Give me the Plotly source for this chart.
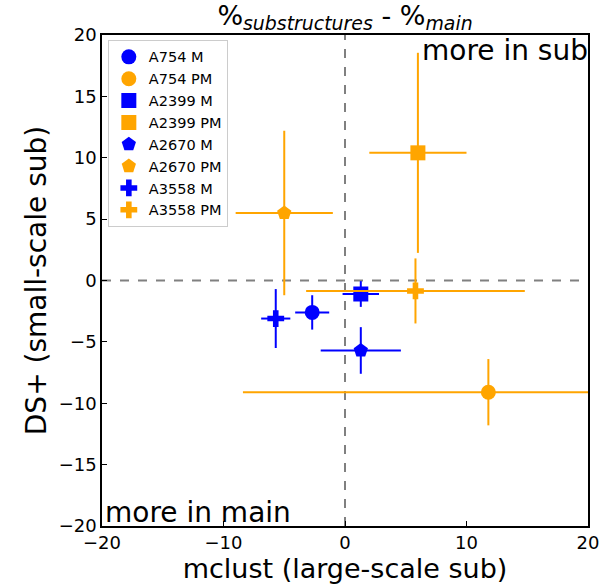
import plotly.graph_objects as go

names = ["A754 M", "A754 PM", "A2399 M", "A2399 PM", "A2670 M", "A2670 PM", "A3558 M", "A3558 PM"]
x_vals = [-2.7, 11.8, 1.3, 6.0, 1.3, -5.0, -5.7, 5.8]
y_vals = [-2.6, -9.1, -1.1, 10.4, -5.7, 5.5, -3.1, -0.85]
x_err = [1.4, 20.2, 1.5, 4.0, 3.3, 4.0, 1.2, 9.0]
y_err = [1.4, 2.7, 1.05, 8.15, 1.9, 6.7, 2.4, 2.65]
colors = ["#0000FF", "#FFA500", "#0000FF", "#FFA500", "#0000FF", "#FFA500", "#0000FF", "#FFA500"]
symbols = ["circle", "circle", "square", "square", "pentagon", "pentagon", "cross", "cross"]
sizes = [15, 15, 15, 15, 15, 15, 14, 14]

FONT = "DejaVu Sans"

fig = go.Figure()
for n, x, y, ex, ey, c, s, sz in zip(names, x_vals, y_vals, x_err, y_err, colors, symbols, sizes):
    fig.add_trace(go.Scatter(
        x=[x], y=[y], mode="markers", name=n,
        marker=dict(color=c, symbol=s, size=sz, line=dict(width=0)),
        error_x=dict(type="data", array=[ex], color=c, thickness=2, width=0),
        error_y=dict(type="data", array=[ey], color=c, thickness=2, width=0),
    ))

# reference lines
fig.add_shape(type="line", x0=0, x1=0, y0=-20, y1=20, xref="x", yref="y",
              line=dict(color="gray", width=2, dash="dash"), layer="below")
fig.add_shape(type="line", x0=-20, x1=20, y0=0, y1=0, xref="x", yref="y",
              line=dict(color="gray", width=2, dash="dash"), layer="below")

fig.add_annotation(x=1, y=1, xref="paper", yref="paper", xanchor="right", yanchor="top",
                   text="more in sub", showarrow=False, font=dict(size=28, color="black", family=FONT),
                   yshift=3, xshift=2)
fig.add_annotation(x=0, y=0, xref="paper", yref="paper", xanchor="left", yanchor="bottom",
                   text="more in main", showarrow=False, font=dict(size=28, color="black", family=FONT),
                   xshift=1, yshift=-5)

axis_common = dict(
    showgrid=False, zeroline=False, showline=True, linecolor="black", linewidth=1.5,
    mirror=True, ticks="inside", ticklen=5, tickwidth=1, tickcolor="black",
    tickfont=dict(size=18, family=FONT, color="black"),
)
fig.update_xaxes(range=[-20, 20], tickvals=[-20, -10, 0, 10, 20],
                 ticktext=["\u221220", "\u221210", "0", "10", "20"],
                 title=dict(text="mclust (large-scale sub)", font=dict(size=27, family=FONT, color="black"), standoff=2),
                 **axis_common)
fig.update_yaxes(range=[-20, 20], tickvals=[-20, -15, -10, -5, 0, 5, 10, 15, 20],
                 ticktext=["\u221220", "\u221215", "\u221210", "\u22125", "0", "5", "10", "15", "20"],
                 title=dict(text="DS+ (small-scale sub)", font=dict(size=28, family=FONT, color="black"), standoff=4),
                 **axis_common)

fig.update_layout(
    width=613, height=588,
    margin=dict(l=102, r=25, t=35, b=62),
    plot_bgcolor="white", paper_bgcolor="white",
    font=dict(family=FONT, color="black"),
    title=dict(text="%<sub><i>substructures</i></sub> - %<sub><i>main</i></sub>",
               x=0.5, xref="paper", xanchor="center", y=0.974, yanchor="middle",
               font=dict(size=27, family=FONT, color="black")),
    legend=dict(x=0.012, y=0.99, xanchor="left", yanchor="top",
                bordercolor="#cccccc", borderwidth=1, bgcolor="rgba(255,255,255,0.8)",
                font=dict(size=14.5, family=FONT, color="black"), tracegroupgap=0,
                itemsizing="trace"),
    showlegend=True,
)

fig.write_html("out.html")
